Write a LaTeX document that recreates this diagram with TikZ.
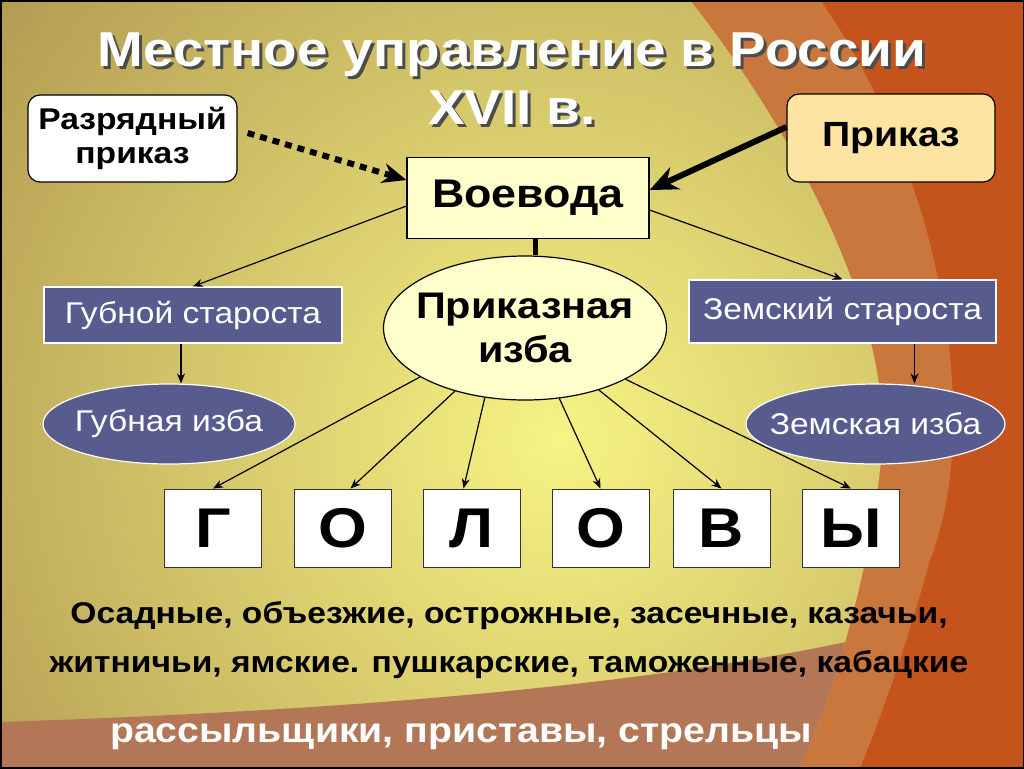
\documentclass[tikz,border=0pt]{standalone}
\usepackage{fontspec}
\setmainfont{Liberation Sans}[FakeStretch=1.12]
\usetikzlibrary{shapes.geometric,arrows.meta,positioning}
\definecolor{bgorange}{HTML}{C4531C}
\definecolor{bgring}{HTML}{C9773D}
\definecolor{bgband}{HTML}{B37757}
\definecolor{oliveout}{HTML}{B09850}
\definecolor{olivein}{HTML}{F7F384}
\definecolor{paleyel}{HTML}{FFFFCC}
\definecolor{peach}{HTML}{FDE4A2}
\definecolor{slate}{HTML}{585B8E}
\newcommand{\shtext}[1]{\makebox[0pt][l]{\hspace{1.5pt}\raisebox{-1.5pt}{\color{black!70}#1}}#1}
\tikzset{
  roundbox/.style={rectangle, rounded corners=6pt, draw=black, line width=0.6pt, text centered, align=center},
  chiefbox/.style={rectangle, draw=black, line width=0.6pt, fill=paleyel, text centered},
  elderbox/.style={rectangle, draw=white, line width=0.6pt, fill=slate, text=white, font=\fontsize{15}{18}\selectfont},
  hutshape/.style={ellipse, draw=white, line width=0.6pt, fill=slate, text=white, inner sep=0pt, font=\fontsize{15}{18}\selectfont},
  letterbox/.style={rectangle, draw=black!80, line width=0.5pt, fill=white, minimum width=48.5pt, minimum height=39pt, font=\bfseries\fontsize{28}{30}\selectfont},
  thinarrow/.style={-{Stealth[length=5pt,width=4pt]}, line width=0.6pt},
  thickarrow/.style={-{Stealth[length=14pt,width=12pt]}, line width=3pt},
  dotarrow/.style={-{Stealth[length=12pt,width=10pt]}, line width=3pt, dash pattern=on 3.5pt off 3pt}
}
\begin{document}
\begin{tikzpicture}[x=0.5pt,y=-0.5pt]
\useasboundingbox (0,0) rectangle (1024,768);
\fill[bgorange] (0,0) rectangle (1024,768);
\fill[bgring] (0,0) -- (820,0) .. controls (940,170) and (985,420) .. (930,560) .. controls (905,650) and (880,720) .. (860,768) -- (0,768) -- cycle;
\begin{scope}
\clip (0,0) -- (690,0) .. controls (800,140) and (900,330) .. (880,470) .. controls (870,560) and (840,680) .. (800,768) -- (0,768) -- cycle;
\shade[inner color=olivein, outer color=oliveout] (560,440) circle (740);
\fill[bgband] (0,722) .. controls (300,712) and (650,690) .. (900,630) -- (900,768) -- (0,768) -- cycle;
\end{scope}
\draw[line width=1.5pt] (0,0) rectangle (1024,768);

\node[text=white, font=\bfseries\fontsize{24.5}{29}\selectfont, align=center] (T) at (512,80) {\shtext{Местное управление в России}\\\shtext{XVII в.}};
\node[roundbox, fill=white, minimum width=104.5pt, minimum height=43.5pt, font=\bfseries\fontsize{15}{17}\selectfont] (RP) at (132.5,138.5) {Разрядный\\приказ};
\node[roundbox, fill=peach, minimum width=104pt, minimum height=44pt, font=\bfseries\fontsize{17.5}{20}\selectfont] (PR) at (891,138) {Приказ};
\node[chiefbox, minimum width=121pt, minimum height=40.5pt, font=\bfseries\fontsize{20}{24}\selectfont] (VO) at (528,198) {Воевода};
\node[ellipse, draw=black, line width=0.6pt, fill=paleyel, minimum width=141.5pt, minimum height=72pt, inner sep=0pt, align=center, font=\bfseries\fontsize{18.5}{22}\selectfont] (PI) at (525,328) {\makebox[0pt]{Приказная}\\\makebox[0pt]{изба}};
\node[elderbox, minimum width=149pt, minimum height=28pt] (GS) at (193,315) {Губной староста};
\node[elderbox, minimum width=153.5pt, minimum height=31.5pt] (ZS) at (842.5,311.5) {Земский староста};
\node[hutshape, minimum width=126pt, minimum height=40pt] (GI) at (169,424) {\makebox[0pt]{Губная изба}};
\node[hutshape, minimum width=129.5pt, minimum height=40pt] (ZI) at (875.5,424) {\makebox[0pt]{Земская изба}};
\node[letterbox] (G1) at (213,528) {Г};
\node[letterbox] (G2) at (342.5,528) {О};
\node[letterbox] (G3) at (471.5,528) {Л};
\node[letterbox] (G4) at (600.5,528) {О};
\node[letterbox] (G5) at (721.5,528) {В};
\node[letterbox] (G6) at (851,528) {Ы};
\node[font=\bfseries\fontsize{15}{24.5}\selectfont, align=center] (B1) at (509,640) {Осадные, объезжие, острожные, засечные, казачьи,\\житничьи, ямские. пушкарские, таможенные, кабацкие};
\node[text=white, font=\bfseries\fontsize{17.5}{20}\selectfont] (B2) at (461,737) {рассыльщики, приставы, стрельцы};

\draw[line width=2.5pt] ([xshift=3.5pt]VO.south) -- ([xshift=3.5pt]VO.south |- PI.north);
\draw[thickarrow] ([yshift=5.5pt]PR.west) -- ([yshift=4pt]VO.east);
\draw[dotarrow] ([xshift=5pt,yshift=2.75pt]RP.east) -- ([yshift=9pt]VO.west);
\draw[thinarrow] ([yshift=-4pt]VO.west) -- (GS.north);
\draw[thinarrow] ([yshift=-6pt]VO.east) -- (ZS.north);
\draw[thinarrow] ([xshift=-6pt]GS.south) -- ([xshift=-6pt]GS.south |- GI.north);
\draw[thinarrow] ([xshift=36pt]ZS.south) -- ([xshift=36pt]ZS.south |- ZI.north);
\draw[thinarrow] (PI.205) -- (G1.north);
\draw[thinarrow] (PI.222) -- ([xshift=4pt]G2.north);
\draw[thinarrow] (PI.240) -- ([xshift=-4pt]G3.north);
\draw[thinarrow] (PI.296) -- (G4.north);
\draw[thinarrow] (PI.320) -- (G5.north);
\draw[thinarrow] (PI.333) -- (G6.north);
\end{tikzpicture}
\end{document}
